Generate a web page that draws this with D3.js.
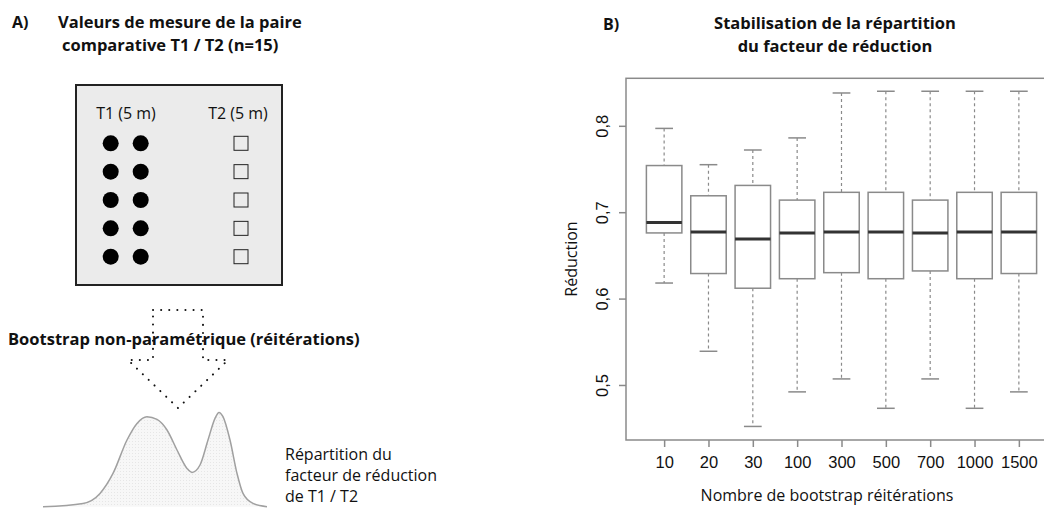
<!DOCTYPE html>
<html>
<head>
<meta charset="utf-8">
<script src="https://cdn.jsdelivr.net/npm/d3@7"></script>
<style>
  body { margin: 0; background: #fff; }
  svg { display: block; font-family: "Open Sans", sans-serif; }
</style>
</head>
<body>
<svg id="chart" width="1044" height="509"></svg>
<script>
// panel B data : bootstrap boxplots
const iterations = ["10", "20", "30", "100", "300", "500", "700", "1000", "1500"];
const whiskerHigh = [0.797, 0.755, 0.772, 0.786, 0.838, 0.840, 0.840, 0.840, 0.840];
const q3 = [0.754, 0.719, 0.731, 0.714, 0.723, 0.723, 0.714, 0.723, 0.723];
const median = [0.688, 0.677, 0.669, 0.676, 0.677, 0.677, 0.676, 0.677, 0.677];
const q1 = [0.676, 0.629, 0.612, 0.623, 0.630, 0.623, 0.632, 0.623, 0.629];
const whiskerLow = [0.618, 0.539, 0.452, 0.492, 0.507, 0.473, 0.507, 0.473, 0.492];
const yTicks = [0.5, 0.6, 0.7, 0.8];

// panel A data : schematic
const pairRows = [1, 2, 3, 4, 5];
const t1Cols = [1, 2];
const distX = [0, 40, 57, 70, 84, 94, 104, 114, 124, 134, 144, 149, 157, 165, 172, 176, 180, 187, 194, 200, 210, 224];
const distY = [0, 3.3, 13.3, 33.3, 66.7, 83.3, 90, 87.3, 76.7, 56.7, 38.3, 34.3, 41.7, 66.7, 88.3, 94.3, 90, 66.7, 33.3, 13.3, 3.3, 0];

const svg = d3.select("#chart");

function textLines(g, lines, x, y, dy, opts) {
  lines.forEach((t, i) => {
    g.append("text")
      .attr("x", Array.isArray(x) ? x[i] : x)
      .attr("y", y + i * dy)
      .attr("font-size", opts.size)
      .attr("font-weight", opts.weight || "normal")
      .attr("text-anchor", opts.anchor || "start")
      .attr("fill", "#111")
      .text(t);
  });
}

// ---------- panel A ----------
const a = svg.append("g");
textLines(a, ["A)"], 12, 28, 0, {size: 16, weight: "bold"});
textLines(a, ["Valeurs de mesure de la paire", "comparative T1 / T2 (n=15)"], [58, 62], 28, 23, {size: 16.5, weight: "bold"});

a.append("rect")
  .attr("x", 76).attr("y", 85).attr("width", 206).attr("height", 200)
  .attr("fill", "#ebebeb").attr("stroke", "#222").attr("stroke-width", 2);

textLines(a, ["T1 (5 m)"], 126, 119, 0, {size: 16, anchor: "middle"});
textLines(a, ["T2 (5 m)"], 238, 119, 0, {size: 16, anchor: "middle"});

const rowY = d3.scalePoint().domain(pairRows).range([143.3, 256.7]);
const colX = d3.scalePoint().domain(t1Cols).range([110.7, 140.7]);

a.selectAll("circle.t1")
  .data(d3.cross(t1Cols, pairRows))
  .join("circle")
  .attr("class", "t1")
  .attr("cx", d => colX(d[0]))
  .attr("cy", d => rowY(d[1]))
  .attr("r", 8)
  .attr("fill", "#000");

a.selectAll("rect.t2")
  .data(pairRows)
  .join("rect")
  .attr("class", "t2")
  .attr("x", 241 - 7).attr("y", d => rowY(d) - 7)
  .attr("width", 14).attr("height", 14)
  .attr("fill", "none").attr("stroke", "#222").attr("stroke-width", 1);

// dotted arrow
const ax = 178, aTop = 310, aMid = 360, aTip = 408, shaft = 25, head = 50;
a.append("path")
  .attr("d", d3.line()([
    [ax - shaft, aTop], [ax + shaft, aTop], [ax + shaft, aMid], [ax + head, aMid],
    [ax, aTip], [ax - head, aMid], [ax - shaft, aMid], [ax - shaft, aTop]
  ]))
  .attr("fill", "none").attr("stroke", "#111").attr("stroke-width", 2)
  .attr("stroke-linecap", "round").attr("stroke-dasharray", "0.1,8");

textLines(a, ["Bootstrap non-paramétrique (réitérations)"], 8, 345, 0, {size: 16.5, weight: "bold"});

// distribution sketch
const defs = svg.append("defs");
const pat = defs.append("pattern").attr("id", "dots")
  .attr("width", 3).attr("height", 3).attr("patternUnits", "userSpaceOnUse");
pat.append("rect").attr("width", 3).attr("height", 3).attr("fill", "#f7f7f7");
pat.append("rect").attr("width", 1).attr("height", 1).attr("fill", "#e6e6e6");

const dx = d3.scaleLinear().domain([0, 224]).range([43, 267]);
const dy = d3.scaleLinear().domain([0, 100]).range([506.7, 406.7]);
const distPts = distX.map((v, i) => [v, distY[i]]);

a.append("path")
  .datum(distPts)
  .attr("d", d3.area().x(d => dx(d[0])).y0(dy(0)).y1(d => dy(d[1])).curve(d3.curveMonotoneX))
  .attr("fill", "url(#dots)");
a.append("path")
  .datum(distPts)
  .attr("d", d3.line().x(d => dx(d[0])).y(d => dy(d[1])).curve(d3.curveMonotoneX))
  .attr("fill", "none").attr("stroke", "#a0a0a0").attr("stroke-width", 1.5);

textLines(a, ["Répartition du", "facteur de réduction", "de T1 / T2"], 285, 460, 21, {size: 16});

// ---------- panel B ----------
const b = svg.append("g");
textLines(b, ["B)"], 603, 30, 0, {size: 16, weight: "bold"});
textLines(b, ["Stabilisation de la répartition", "du facteur de réduction"], 835, 29, 23, {size: 16.5, weight: "bold", anchor: "middle"});

const x = d3.scaleLinear().domain([0.14, 9.86]).range([626, 1057]);
const y = d3.scaleLinear().domain([0.4363, 0.855]).range([440, 78.3]);
const unit = x(1) - x(0);
const boxW = 0.8 * unit, capW = 0.4 * unit;

const boxes = iterations.map((lab, i) => ({
  pos: i + 1, lab, hi: whiskerHigh[i], q3: q3[i], med: median[i], q1: q1[i], lo: whiskerLow[i]
}));

const grey = "#8a8a8a";
const bx = b.selectAll("g.box").data(boxes).join("g").attr("class", "box");

bx.append("line")
  .attr("x1", d => x(d.pos)).attr("x2", d => x(d.pos))
  .attr("y1", d => y(d.hi)).attr("y2", d => y(d.q3))
  .attr("stroke", grey).attr("stroke-width", 1.2).attr("stroke-dasharray", "3,3");
bx.append("line")
  .attr("x1", d => x(d.pos)).attr("x2", d => x(d.pos))
  .attr("y1", d => y(d.q1)).attr("y2", d => y(d.lo))
  .attr("stroke", grey).attr("stroke-width", 1.2).attr("stroke-dasharray", "3,3");
bx.selectAll("line.cap")
  .data(d => [[d.pos, d.hi], [d.pos, d.lo]])
  .join("line").attr("class", "cap")
  .attr("x1", d => x(d[0]) - capW / 2).attr("x2", d => x(d[0]) + capW / 2)
  .attr("y1", d => y(d[1])).attr("y2", d => y(d[1]))
  .attr("stroke", grey).attr("stroke-width", 1.5);
bx.append("rect")
  .attr("x", d => x(d.pos) - boxW / 2).attr("width", boxW)
  .attr("y", d => y(d.q3)).attr("height", d => y(d.q1) - y(d.q3))
  .attr("fill", "#fff").attr("stroke", grey).attr("stroke-width", 1.5);
bx.append("line")
  .attr("x1", d => x(d.pos) - boxW / 2).attr("x2", d => x(d.pos) + boxW / 2)
  .attr("y1", d => y(d.med)).attr("y2", d => y(d.med))
  .attr("stroke", "#333").attr("stroke-width", 3);

// frame
b.append("rect")
  .attr("x", x.range()[0]).attr("y", y.range()[1])
  .attr("width", x.range()[1] - x.range()[0]).attr("height", y.range()[0] - y.range()[1])
  .attr("fill", "none").attr("stroke", grey).attr("stroke-width", 1.5);

// axes
const yAxis = b.append("g")
  .attr("transform", `translate(${x.range()[0]},0)`)
  .call(d3.axisLeft(y).tickValues(yTicks).tickSize(7).tickFormat(d => d3.format(".1f")(d).replace(".", ",")));
yAxis.select(".domain").remove();
yAxis.selectAll(".tick line").attr("stroke", grey).attr("stroke-width", 1.5);
yAxis.selectAll(".tick text")
  .attr("transform", "rotate(-90)")
  .attr("x", 0).attr("y", -24).attr("dy", "0.35em")
  .attr("text-anchor", "middle")
  .attr("font-size", 16.5).attr("fill", "#111");

const xAxis = b.append("g")
  .attr("transform", `translate(0,${y.range()[0]})`)
  .call(d3.axisBottom(x).tickValues(boxes.map(d => d.pos)).tickSize(7).tickFormat(i => iterations[i - 1]));
xAxis.select(".domain").remove();
xAxis.selectAll(".tick line").attr("stroke", grey).attr("stroke-width", 1.5);
xAxis.selectAll(".tick text").attr("y", 16).attr("font-size", 16.5).attr("fill", "#111");

b.append("text")
  .attr("transform", "translate(577,259) rotate(-90)")
  .attr("text-anchor", "middle").attr("font-size", 16).attr("fill", "#111")
  .text("Réduction");
textLines(b, ["Nombre de bootstrap réitérations"], 827, 501, 0, {size: 16, anchor: "middle"});
</script>
</body>
</html>
